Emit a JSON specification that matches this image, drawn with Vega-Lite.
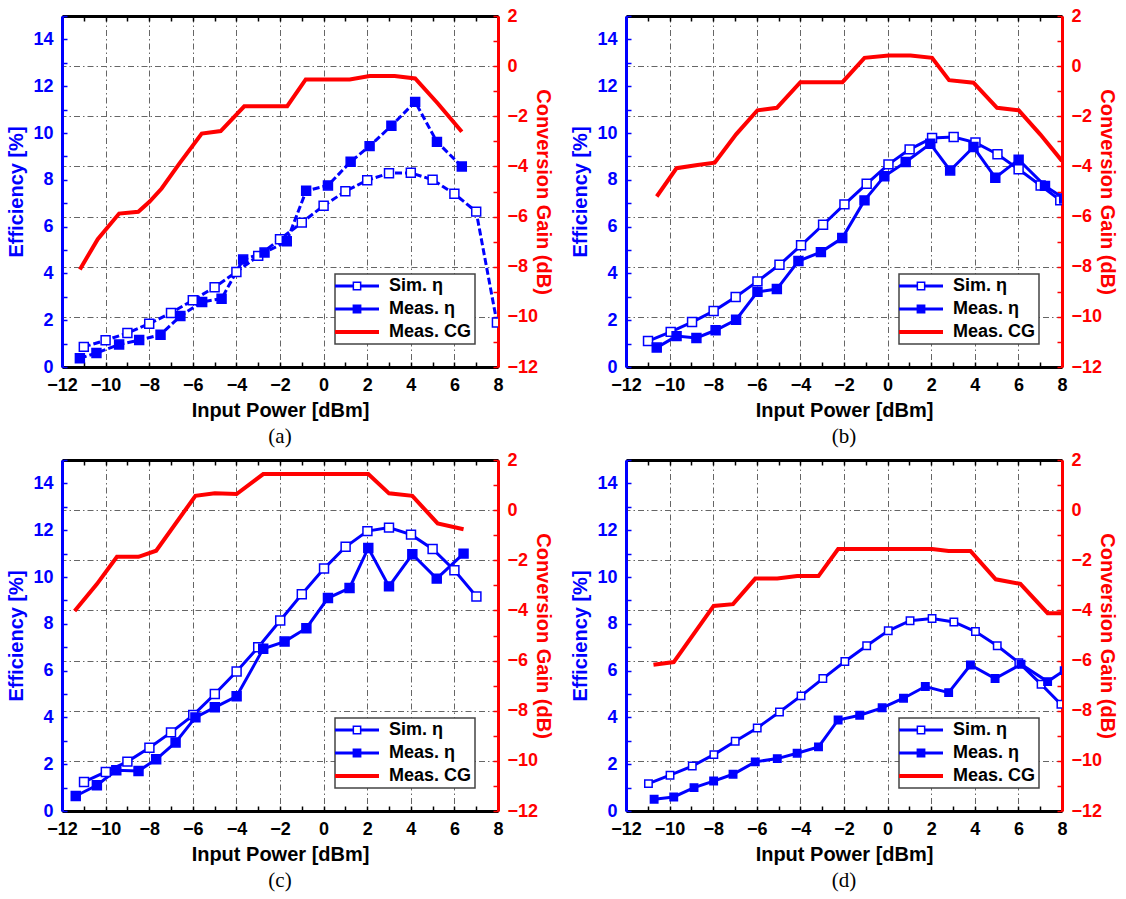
{
"$schema":"https://vega.github.io/schema/vega-lite/v6.json",
"background":"white",
"padding":{"left":6,"top":7,"right":8,"bottom":4},
"datasets":{
"a_eff":[
{"s":"Sim. η","x":-11,"y":0.86},{"s":"Sim. η","x":-10,"y":1.14},{"s":"Sim. η","x":-9,"y":1.45},{"s":"Sim. η","x":-8,"y":1.85},{"s":"Sim. η","x":-7,"y":2.31},{"s":"Sim. η","x":-6,"y":2.85},{"s":"Sim. η","x":-5,"y":3.41},{"s":"Sim. η","x":-4,"y":4.06},{"s":"Sim. η","x":-3,"y":4.75},{"s":"Sim. η","x":-2,"y":5.46},{"s":"Sim. η","x":-1,"y":6.17},{"s":"Sim. η","x":0,"y":6.89},{"s":"Sim. η","x":1,"y":7.51},{"s":"Sim. η","x":2,"y":7.98},{"s":"Sim. η","x":3,"y":8.28},{"s":"Sim. η","x":4,"y":8.3},{"s":"Sim. η","x":5,"y":8.0},{"s":"Sim. η","x":6,"y":7.4},{"s":"Sim. η","x":7,"y":6.64},{"s":"Sim. η","x":7.95,"y":1.9},
{"s":"Meas. η","x":-11.18,"y":0.37},{"s":"Meas. η","x":-10.42,"y":0.6},{"s":"Meas. η","x":-9.38,"y":0.96},{"s":"Meas. η","x":-8.46,"y":1.15},{"s":"Meas. η","x":-7.48,"y":1.38},{"s":"Meas. η","x":-6.57,"y":2.18},{"s":"Meas. η","x":-5.57,"y":2.78},{"s":"Meas. η","x":-4.68,"y":2.92},{"s":"Meas. η","x":-3.69,"y":4.59},{"s":"Meas. η","x":-2.71,"y":4.89},{"s":"Meas. η","x":-1.69,"y":5.37},{"s":"Meas. η","x":-0.8,"y":7.53},{"s":"Meas. η","x":0.2,"y":7.76},{"s":"Meas. η","x":1.24,"y":8.77},{"s":"Meas. η","x":2.11,"y":9.44},{"s":"Meas. η","x":3.11,"y":10.31},{"s":"Meas. η","x":4.2,"y":11.33},{"s":"Meas. η","x":5.2,"y":9.62},{"s":"Meas. η","x":6.34,"y":8.57}],
"a_cg":[
{"x":-11.18,"y":-8.11},{"x":-10.36,"y":-6.9},{"x":-9.38,"y":-5.88},{"x":-8.5,"y":-5.81},{"x":-7.99,"y":-5.41},{"x":-7.43,"y":-4.88},{"x":-6.61,"y":-3.88},{"x":-5.59,"y":-2.69},{"x":-4.72,"y":-2.59},{"x":-3.64,"y":-1.6},{"x":-1.67,"y":-1.6},{"x":-0.82,"y":-0.53},{"x":1.2,"y":-0.53},{"x":2.11,"y":-0.39},{"x":3.26,"y":-0.39},{"x":4.2,"y":-0.49},{"x":5.24,"y":-1.49},{"x":6.34,"y":-2.62}],
"b_eff":[
{"s":"Sim. η","x":-10.99,"y":1.11},{"s":"Sim. η","x":-9.95,"y":1.5},{"s":"Sim. η","x":-8.97,"y":1.92},{"s":"Sim. η","x":-7.98,"y":2.39},{"s":"Sim. η","x":-6.97,"y":2.99},{"s":"Sim. η","x":-5.97,"y":3.66},{"s":"Sim. η","x":-4.96,"y":4.37},{"s":"Sim. η","x":-3.97,"y":5.2},{"s":"Sim. η","x":-2.96,"y":6.08},{"s":"Sim. η","x":-1.98,"y":6.95},{"s":"Sim. η","x":-0.96,"y":7.83},{"s":"Sim. η","x":0.04,"y":8.66},{"s":"Sim. η","x":1.01,"y":9.3},{"s":"Sim. η","x":2.04,"y":9.79},{"s":"Sim. η","x":3.03,"y":9.83},{"s":"Sim. η","x":4.03,"y":9.59},{"s":"Sim. η","x":5.04,"y":9.09},{"s":"Sim. η","x":6.01,"y":8.45},{"s":"Sim. η","x":7.02,"y":7.76},{"s":"Sim. η","x":7.92,"y":7.12},
{"s":"Meas. η","x":-10.59,"y":0.83},{"s":"Meas. η","x":-9.68,"y":1.32},{"s":"Meas. η","x":-8.77,"y":1.24},{"s":"Meas. η","x":-7.89,"y":1.57},{"s":"Meas. η","x":-6.95,"y":2.02},{"s":"Meas. η","x":-5.97,"y":3.21},{"s":"Meas. η","x":-5.08,"y":3.33},{"s":"Meas. η","x":-4.09,"y":4.53},{"s":"Meas. η","x":-3.06,"y":4.91},{"s":"Meas. η","x":-2.08,"y":5.51},{"s":"Meas. η","x":-1.06,"y":7.12},{"s":"Meas. η","x":-0.15,"y":8.15},{"s":"Meas. η","x":0.83,"y":8.76},{"s":"Meas. η","x":1.96,"y":9.54},{"s":"Meas. η","x":2.87,"y":8.4},{"s":"Meas. η","x":3.94,"y":9.4},{"s":"Meas. η","x":4.94,"y":8.09},{"s":"Meas. η","x":6.01,"y":8.86},{"s":"Meas. η","x":7.22,"y":7.74},{"s":"Meas. η","x":8.1,"y":7.2}],
"b_cg":[
{"x":-10.59,"y":-5.2},{"x":-9.68,"y":-4.07},{"x":-8.72,"y":-3.94},{"x":-7.93,"y":-3.85},{"x":-6.95,"y":-2.72},{"x":-5.97,"y":-1.76},{"x":-5.08,"y":-1.66},{"x":-4.0,"y":-0.64},{"x":-2.07,"y":-0.64},{"x":-1.06,"y":0.33},{"x":0.05,"y":0.42},{"x":1.05,"y":0.42},{"x":2.04,"y":0.33},{"x":2.82,"y":-0.56},{"x":3.94,"y":-0.66},{"x":5.02,"y":-1.66},{"x":6.01,"y":-1.76},{"x":7.0,"y":-2.72},{"x":8.0,"y":-3.78}],
"c_eff":[
{"s":"Sim. η","x":-10.99,"y":1.24},{"s":"Sim. η","x":-9.99,"y":1.67},{"s":"Sim. η","x":-9,"y":2.11},{"s":"Sim. η","x":-7.99,"y":2.7},{"s":"Sim. η","x":-7,"y":3.36},{"s":"Sim. η","x":-5.98,"y":4.1},{"s":"Sim. η","x":-4.99,"y":5.0},{"s":"Sim. η","x":-3.99,"y":5.96},{"s":"Sim. η","x":-3,"y":7.0},{"s":"Sim. η","x":-1.99,"y":8.14},{"s":"Sim. η","x":-1,"y":9.26},{"s":"Sim. η","x":0.02,"y":10.36},{"s":"Sim. η","x":1.01,"y":11.29},{"s":"Sim. η","x":2.01,"y":11.96},{"s":"Sim. η","x":3,"y":12.11},{"s":"Sim. η","x":4.01,"y":11.81},{"s":"Sim. η","x":5,"y":11.2},{"s":"Sim. η","x":6,"y":10.29},{"s":"Sim. η","x":7.01,"y":9.17},
{"s":"Meas. η","x":-11.37,"y":0.64},{"s":"Meas. η","x":-10.4,"y":1.1},{"s":"Meas. η","x":-9.51,"y":1.74},{"s":"Meas. η","x":-8.49,"y":1.71},{"s":"Meas. η","x":-7.68,"y":2.21},{"s":"Meas. η","x":-6.79,"y":2.93},{"s":"Meas. η","x":-5.88,"y":4.0},{"s":"Meas. η","x":-4.99,"y":4.43},{"s":"Meas. η","x":-3.99,"y":4.9},{"s":"Meas. η","x":-2.77,"y":6.93},{"s":"Meas. η","x":-1.79,"y":7.24},{"s":"Meas. η","x":-0.79,"y":7.81},{"s":"Meas. η","x":0.2,"y":9.1},{"s":"Meas. η","x":1.19,"y":9.53},{"s":"Meas. η","x":2.05,"y":11.24},{"s":"Meas. η","x":3,"y":9.6},{"s":"Meas. η","x":4.07,"y":10.97},{"s":"Meas. η","x":5.19,"y":9.93},{"s":"Meas. η","x":6.42,"y":11.0}],
"c_cg":[
{"x":-11.42,"y":-4.02},{"x":-10.4,"y":-2.95},{"x":-9.48,"y":-1.86},{"x":-8.49,"y":-1.86},{"x":-7.68,"y":-1.62},{"x":-5.88,"y":0.57},{"x":-4.99,"y":0.67},{"x":-3.99,"y":0.64},{"x":-2.77,"y":1.44},{"x":2.05,"y":1.44},{"x":3,"y":0.67},{"x":4.07,"y":0.57},{"x":5.23,"y":-0.53},{"x":6.42,"y":-0.76}],
"d_eff":[
{"s":"Sim. η","x":-10.97,"y":1.17},{"s":"Sim. η","x":-9.98,"y":1.53},{"s":"Sim. η","x":-8.96,"y":1.92},{"s":"Sim. η","x":-7.97,"y":2.41},{"s":"Sim. η","x":-6.99,"y":2.98},{"s":"Sim. η","x":-5.98,"y":3.55},{"s":"Sim. η","x":-4.96,"y":4.23},{"s":"Sim. η","x":-3.97,"y":4.92},{"s":"Sim. η","x":-2.97,"y":5.66},{"s":"Sim. η","x":-1.96,"y":6.39},{"s":"Sim. η","x":-0.96,"y":7.06},{"s":"Sim. η","x":0.03,"y":7.7},{"s":"Sim. η","x":1.03,"y":8.13},{"s":"Sim. η","x":2.04,"y":8.23},{"s":"Sim. η","x":3.04,"y":8.08},{"s":"Sim. η","x":4.03,"y":7.67},{"s":"Sim. η","x":5.03,"y":7.06},{"s":"Sim. η","x":6.02,"y":6.34},{"s":"Sim. η","x":7.04,"y":5.42},{"s":"Sim. η","x":7.95,"y":4.56},
{"s":"Meas. η","x":-10.71,"y":0.5},{"s":"Meas. η","x":-9.81,"y":0.6},{"s":"Meas. η","x":-8.88,"y":1.0},{"s":"Meas. η","x":-7.98,"y":1.28},{"s":"Meas. η","x":-7.09,"y":1.57},{"s":"Meas. η","x":-6.07,"y":2.1},{"s":"Meas. η","x":-5.06,"y":2.24},{"s":"Meas. η","x":-4.15,"y":2.47},{"s":"Meas. η","x":-3.17,"y":2.74},{"s":"Meas. η","x":-2.27,"y":3.89},{"s":"Meas. η","x":-1.28,"y":4.09},{"s":"Meas. η","x":-0.25,"y":4.41},{"s":"Meas. η","x":0.73,"y":4.82},{"s":"Meas. η","x":1.73,"y":5.32},{"s":"Meas. η","x":2.8,"y":5.06},{"s":"Meas. η","x":3.8,"y":6.24},{"s":"Meas. η","x":4.93,"y":5.66},{"s":"Meas. η","x":6.12,"y":6.27},{"s":"Meas. η","x":7.34,"y":5.53},{"s":"Meas. η","x":8.1,"y":6.0}],
"d_cg":[
{"x":-10.74,"y":-6.17},{"x":-9.81,"y":-6.06},{"x":-7.98,"y":-3.82},{"x":-7.09,"y":-3.75},{"x":-6.07,"y":-2.73},{"x":-5.06,"y":-2.73},{"x":-4.15,"y":-2.63},{"x":-3.17,"y":-2.63},{"x":-2.27,"y":-1.55},{"x":2.04,"y":-1.55},{"x":2.8,"y":-1.63},{"x":3.8,"y":-1.63},{"x":4.96,"y":-2.76},{"x":6.09,"y":-2.94},{"x":7.34,"y":-4.11},{"x":8,"y":-4.11}]
},
"columns":2,
"spacing":{"row":4,"column":17},
"resolve":{"scale":{"color":"independent","fill":"independent"}},
"concat":[
{"width":436,"height":351,
 "title":{"text":"(a)","orient":"bottom","frame":"group","anchor":"middle","font":"Liberation Serif","fontSize":21,"fontWeight":"normal","color":"black","offset":6},
 "layer":[
   {"data":{"name":"a_eff"},"mark":{"type":"line","strokeWidth":3,"strokeDash":[7,3],"clip":true},
    "encoding":{
     "x":{"field":"x","type":"quantitative","scale":{"domain":[-12,8],"nice":false},"axis":{"orient":"bottom","title":"Input Power [dBm]","values":[-12,-11,-10,-9,-8,-7,-6,-5,-4,-3,-2,-1,0,1,2,3,4,5,6,7,8],"labelExpr":"datum.value % 2 === 0 ? datum.label : ''","grid":true,"gridOpacity":{"condition":{"test":"datum.value % 2 === 0","value":1},"value":0},"domainColor":"black","tickColor":"black"}},
     "y":{"field":"y","type":"quantitative","scale":{"domain":[0,15],"nice":false},"axis":{"orient":"left","title":"Efficiency [%]","values":[0,1,2,3,4,5,6,7,8,9,10,11,12,13,14,15],"labelExpr":"datum.value % 2 === 0 ? datum.label : ''","grid":false,"domainColor":"#0000ff","tickColor":"#0000ff","labelColor":"#0000ff","titleColor":"#0000ff"}},
     "color":{"field":"s","type":"nominal","scale":{"domain":["Sim. η","Meas. η","Meas. CG"],"range":["#0000ff","#0000ff","#ff0000"]},
      "legend":{"title":null,"orient":"bottom-right","offset":23,"encode":{"symbols":{"update":{"shape":{"signal":"datum.index === 2 ? 'M-2.5,-0.23H2.5V0.23H-2.5Z' : datum.index === 0 ? 'M-2.5,-0.17H-0.5V0.17H-2.5ZM0.5,-0.17H2.5V0.17H0.5ZM-0.5,-0.5H0.5V0.5H-0.5ZM-0.33,-0.33V0.33H0.33V-0.33Z' : 'M-2.5,-0.17H-0.5V0.17H-2.5ZM0.5,-0.17H2.5V0.17H0.5ZM-0.5,-0.5H0.5V0.5H-0.5Z'"},"fill":{"signal":"datum.index === 2 ? '#ff0000' : '#0000ff'"},"fillOpacity":{"value":1},"strokeWidth":{"value":0}}}}}}}},
   {"data":{"name":"a_eff"},"mark":{"type":"square","size":80,"stroke":"#0000ff","strokeWidth":1.5,"opacity":1,"clip":true},
    "encoding":{
     "x":{"field":"x","type":"quantitative","scale":{"domain":[-12,8],"nice":false},"axis":{"orient":"top","title":null,"labels":false,"values":[-12,-11,-10,-9,-8,-7,-6,-5,-4,-3,-2,-1,0,1,2,3,4,5,6,7,8],"grid":false,"domainColor":"black","tickColor":"black"}},
     "y":{"field":"y","type":"quantitative","scale":{"domain":[0,15],"nice":false},"axis":null},
     "fill":{"field":"s","type":"nominal","scale":{"domain":["Sim. η","Meas. η"],"range":["white","#0000ff"]},"legend":null}}},
  {"data":{"name":"a_cg"},
   "mark":{"type":"line","color":"#ff0000","strokeWidth":4,"clip":true},
   "encoding":{
    "x":{"field":"x","type":"quantitative","scale":{"domain":[-12,8],"nice":false},"axis":null},
    "y":{"field":"y","type":"quantitative","scale":{"domain":[-12,2],"nice":false},"axis":{"orient":"right","title":"Conversion Gain (dB)","values":[-12,-11,-10,-9,-8,-7,-6,-5,-4,-3,-2,-1,0,1,2],"labelExpr":"datum.value % 2 === 0 ? datum.label : ''","grid":true,"gridOpacity":{"condition":{"test":"datum.value % 2 === 0","value":1},"value":0},"domainColor":"#ff0000","tickColor":"#ff0000","labelColor":"#ff0000","titleColor":"#ff0000"}}}}],
 "resolve":{"scale":{"y":"independent"},"axis":{"y":"independent","x":"independent"}}},
{"width":436,"height":351,
 "title":{"text":"(b)","orient":"bottom","frame":"group","anchor":"middle","font":"Liberation Serif","fontSize":21,"fontWeight":"normal","color":"black","offset":6},
 "layer":[
   {"data":{"name":"b_eff"},"mark":{"type":"line","strokeWidth":3,"clip":true},
    "encoding":{
     "x":{"field":"x","type":"quantitative","scale":{"domain":[-12,8],"nice":false},"axis":{"orient":"bottom","title":"Input Power [dBm]","values":[-12,-11,-10,-9,-8,-7,-6,-5,-4,-3,-2,-1,0,1,2,3,4,5,6,7,8],"labelExpr":"datum.value % 2 === 0 ? datum.label : ''","grid":true,"gridOpacity":{"condition":{"test":"datum.value % 2 === 0","value":1},"value":0},"domainColor":"black","tickColor":"black"}},
     "y":{"field":"y","type":"quantitative","scale":{"domain":[0,15],"nice":false},"axis":{"orient":"left","title":"Efficiency [%]","values":[0,1,2,3,4,5,6,7,8,9,10,11,12,13,14,15],"labelExpr":"datum.value % 2 === 0 ? datum.label : ''","grid":false,"domainColor":"#0000ff","tickColor":"#0000ff","labelColor":"#0000ff","titleColor":"#0000ff"}},
     "color":{"field":"s","type":"nominal","scale":{"domain":["Sim. η","Meas. η","Meas. CG"],"range":["#0000ff","#0000ff","#ff0000"]},
      "legend":{"title":null,"orient":"bottom-right","offset":23,"encode":{"symbols":{"update":{"shape":{"signal":"datum.index === 2 ? 'M-2.5,-0.23H2.5V0.23H-2.5Z' : datum.index === 0 ? 'M-2.5,-0.17H-0.5V0.17H-2.5ZM0.5,-0.17H2.5V0.17H0.5ZM-0.5,-0.5H0.5V0.5H-0.5ZM-0.33,-0.33V0.33H0.33V-0.33Z' : 'M-2.5,-0.17H-0.5V0.17H-2.5ZM0.5,-0.17H2.5V0.17H0.5ZM-0.5,-0.5H0.5V0.5H-0.5Z'"},"fill":{"signal":"datum.index === 2 ? '#ff0000' : '#0000ff'"},"fillOpacity":{"value":1},"strokeWidth":{"value":0}}}}}}}},
   {"data":{"name":"b_eff"},"mark":{"type":"square","size":80,"stroke":"#0000ff","strokeWidth":1.5,"opacity":1,"clip":true},
    "encoding":{
     "x":{"field":"x","type":"quantitative","scale":{"domain":[-12,8],"nice":false},"axis":{"orient":"top","title":null,"labels":false,"values":[-12,-11,-10,-9,-8,-7,-6,-5,-4,-3,-2,-1,0,1,2,3,4,5,6,7,8],"grid":false,"domainColor":"black","tickColor":"black"}},
     "y":{"field":"y","type":"quantitative","scale":{"domain":[0,15],"nice":false},"axis":null},
     "fill":{"field":"s","type":"nominal","scale":{"domain":["Sim. η","Meas. η"],"range":["white","#0000ff"]},"legend":null}}},
  {"data":{"name":"b_cg"},
   "mark":{"type":"line","color":"#ff0000","strokeWidth":4,"clip":true},
   "encoding":{
    "x":{"field":"x","type":"quantitative","scale":{"domain":[-12,8],"nice":false},"axis":null},
    "y":{"field":"y","type":"quantitative","scale":{"domain":[-12,2],"nice":false},"axis":{"orient":"right","title":"Conversion Gain (dB)","values":[-12,-11,-10,-9,-8,-7,-6,-5,-4,-3,-2,-1,0,1,2],"labelExpr":"datum.value % 2 === 0 ? datum.label : ''","grid":true,"gridOpacity":{"condition":{"test":"datum.value % 2 === 0","value":1},"value":0},"domainColor":"#ff0000","tickColor":"#ff0000","labelColor":"#ff0000","titleColor":"#ff0000"}}}}],
 "resolve":{"scale":{"y":"independent"},"axis":{"y":"independent","x":"independent"}}},
{"width":436,"height":351,
 "title":{"text":"(c)","orient":"bottom","frame":"group","anchor":"middle","font":"Liberation Serif","fontSize":21,"fontWeight":"normal","color":"black","offset":6},
 "layer":[
   {"data":{"name":"c_eff"},"mark":{"type":"line","strokeWidth":3,"clip":true},
    "encoding":{
     "x":{"field":"x","type":"quantitative","scale":{"domain":[-12,8],"nice":false},"axis":{"orient":"bottom","title":"Input Power [dBm]","values":[-12,-11,-10,-9,-8,-7,-6,-5,-4,-3,-2,-1,0,1,2,3,4,5,6,7,8],"labelExpr":"datum.value % 2 === 0 ? datum.label : ''","grid":true,"gridOpacity":{"condition":{"test":"datum.value % 2 === 0","value":1},"value":0},"domainColor":"black","tickColor":"black"}},
     "y":{"field":"y","type":"quantitative","scale":{"domain":[0,15],"nice":false},"axis":{"orient":"left","title":"Efficiency [%]","values":[0,1,2,3,4,5,6,7,8,9,10,11,12,13,14,15],"labelExpr":"datum.value % 2 === 0 ? datum.label : ''","grid":false,"domainColor":"#0000ff","tickColor":"#0000ff","labelColor":"#0000ff","titleColor":"#0000ff"}},
     "color":{"field":"s","type":"nominal","scale":{"domain":["Sim. η","Meas. η","Meas. CG"],"range":["#0000ff","#0000ff","#ff0000"]},
      "legend":{"title":null,"orient":"bottom-right","offset":23,"encode":{"symbols":{"update":{"shape":{"signal":"datum.index === 2 ? 'M-2.5,-0.23H2.5V0.23H-2.5Z' : datum.index === 0 ? 'M-2.5,-0.17H-0.5V0.17H-2.5ZM0.5,-0.17H2.5V0.17H0.5ZM-0.5,-0.5H0.5V0.5H-0.5ZM-0.33,-0.33V0.33H0.33V-0.33Z' : 'M-2.5,-0.17H-0.5V0.17H-2.5ZM0.5,-0.17H2.5V0.17H0.5ZM-0.5,-0.5H0.5V0.5H-0.5Z'"},"fill":{"signal":"datum.index === 2 ? '#ff0000' : '#0000ff'"},"fillOpacity":{"value":1},"strokeWidth":{"value":0}}}}}}}},
   {"data":{"name":"c_eff"},"mark":{"type":"square","size":80,"stroke":"#0000ff","strokeWidth":1.5,"opacity":1,"clip":true},
    "encoding":{
     "x":{"field":"x","type":"quantitative","scale":{"domain":[-12,8],"nice":false},"axis":{"orient":"top","title":null,"labels":false,"values":[-12,-11,-10,-9,-8,-7,-6,-5,-4,-3,-2,-1,0,1,2,3,4,5,6,7,8],"grid":false,"domainColor":"black","tickColor":"black"}},
     "y":{"field":"y","type":"quantitative","scale":{"domain":[0,15],"nice":false},"axis":null},
     "fill":{"field":"s","type":"nominal","scale":{"domain":["Sim. η","Meas. η"],"range":["white","#0000ff"]},"legend":null}}},
  {"data":{"name":"c_cg"},
   "mark":{"type":"line","color":"#ff0000","strokeWidth":4,"clip":true},
   "encoding":{
    "x":{"field":"x","type":"quantitative","scale":{"domain":[-12,8],"nice":false},"axis":null},
    "y":{"field":"y","type":"quantitative","scale":{"domain":[-12,2],"nice":false},"axis":{"orient":"right","title":"Conversion Gain (dB)","values":[-12,-11,-10,-9,-8,-7,-6,-5,-4,-3,-2,-1,0,1,2],"labelExpr":"datum.value % 2 === 0 ? datum.label : ''","grid":true,"gridOpacity":{"condition":{"test":"datum.value % 2 === 0","value":1},"value":0},"domainColor":"#ff0000","tickColor":"#ff0000","labelColor":"#ff0000","titleColor":"#ff0000"}}}}],
 "resolve":{"scale":{"y":"independent"},"axis":{"y":"independent","x":"independent"}}},
{"width":436,"height":351,
 "title":{"text":"(d)","orient":"bottom","frame":"group","anchor":"middle","font":"Liberation Serif","fontSize":21,"fontWeight":"normal","color":"black","offset":6},
 "layer":[
   {"data":{"name":"d_eff"},"mark":{"type":"line","strokeWidth":3,"clip":true},
    "encoding":{
     "x":{"field":"x","type":"quantitative","scale":{"domain":[-12,8],"nice":false},"axis":{"orient":"bottom","title":"Input Power [dBm]","values":[-12,-11,-10,-9,-8,-7,-6,-5,-4,-3,-2,-1,0,1,2,3,4,5,6,7,8],"labelExpr":"datum.value % 2 === 0 ? datum.label : ''","grid":true,"gridOpacity":{"condition":{"test":"datum.value % 2 === 0","value":1},"value":0},"domainColor":"black","tickColor":"black"}},
     "y":{"field":"y","type":"quantitative","scale":{"domain":[0,15],"nice":false},"axis":{"orient":"left","title":"Efficiency [%]","values":[0,1,2,3,4,5,6,7,8,9,10,11,12,13,14,15],"labelExpr":"datum.value % 2 === 0 ? datum.label : ''","grid":false,"domainColor":"#0000ff","tickColor":"#0000ff","labelColor":"#0000ff","titleColor":"#0000ff"}},
     "color":{"field":"s","type":"nominal","scale":{"domain":["Sim. η","Meas. η","Meas. CG"],"range":["#0000ff","#0000ff","#ff0000"]},
      "legend":{"title":null,"orient":"bottom-right","offset":23,"encode":{"symbols":{"update":{"shape":{"signal":"datum.index === 2 ? 'M-2.5,-0.23H2.5V0.23H-2.5Z' : datum.index === 0 ? 'M-2.5,-0.17H-0.5V0.17H-2.5ZM0.5,-0.17H2.5V0.17H0.5ZM-0.5,-0.5H0.5V0.5H-0.5ZM-0.33,-0.33V0.33H0.33V-0.33Z' : 'M-2.5,-0.17H-0.5V0.17H-2.5ZM0.5,-0.17H2.5V0.17H0.5ZM-0.5,-0.5H0.5V0.5H-0.5Z'"},"fill":{"signal":"datum.index === 2 ? '#ff0000' : '#0000ff'"},"fillOpacity":{"value":1},"strokeWidth":{"value":0}}}}}}}},
   {"data":{"name":"d_eff"},"mark":{"type":"square","size":55,"stroke":"#0000ff","strokeWidth":1.5,"opacity":1,"clip":true},
    "encoding":{
     "x":{"field":"x","type":"quantitative","scale":{"domain":[-12,8],"nice":false},"axis":{"orient":"top","title":null,"labels":false,"values":[-12,-11,-10,-9,-8,-7,-6,-5,-4,-3,-2,-1,0,1,2,3,4,5,6,7,8],"grid":false,"domainColor":"black","tickColor":"black"}},
     "y":{"field":"y","type":"quantitative","scale":{"domain":[0,15],"nice":false},"axis":null},
     "fill":{"field":"s","type":"nominal","scale":{"domain":["Sim. η","Meas. η"],"range":["white","#0000ff"]},"legend":null}}},
  {"data":{"name":"d_cg"},
   "mark":{"type":"line","color":"#ff0000","strokeWidth":4,"clip":true},
   "encoding":{
    "x":{"field":"x","type":"quantitative","scale":{"domain":[-12,8],"nice":false},"axis":null},
    "y":{"field":"y","type":"quantitative","scale":{"domain":[-12,2],"nice":false},"axis":{"orient":"right","title":"Conversion Gain (dB)","values":[-12,-11,-10,-9,-8,-7,-6,-5,-4,-3,-2,-1,0,1,2],"labelExpr":"datum.value % 2 === 0 ? datum.label : ''","grid":true,"gridOpacity":{"condition":{"test":"datum.value % 2 === 0","value":1},"value":0},"domainColor":"#ff0000","tickColor":"#ff0000","labelColor":"#ff0000","titleColor":"#ff0000"}}}}],
 "resolve":{"scale":{"y":"independent"},"axis":{"y":"independent","x":"independent"}}}
],
"config":{
 "view":{"stroke":null},
 "axis":{"labelFont":"Liberation Sans","labelFontWeight":"bold","labelFontSize":18,"titleFont":"Liberation Sans","titleFontWeight":"bold","titleFontSize":20,"domainWidth":3,"tickWidth":1.5,"tickSize":-5,"labelPadding":14,"titlePadding":6,"gridColor":"#666666","gridDash":[6,3,1.5,3],"gridWidth":1,"labelColor":"black","titleColor":"black","labelFlush":false,"labelOverlap":false},
 "axisRight":{"titlePadding":-5},
 "legend":{"labelFont":"Liberation Sans","labelFontWeight":"bold","labelFontSize":18,"labelColor":"black","strokeColor":"#444444","strokeWidth":1.5,"fillColor":"white","padding":3,"symbolSize":310,"symbolStrokeWidth":0,"symbolOffset":10,"labelOffset":23,"rowPadding":5,"cornerRadius":0}
}
}
